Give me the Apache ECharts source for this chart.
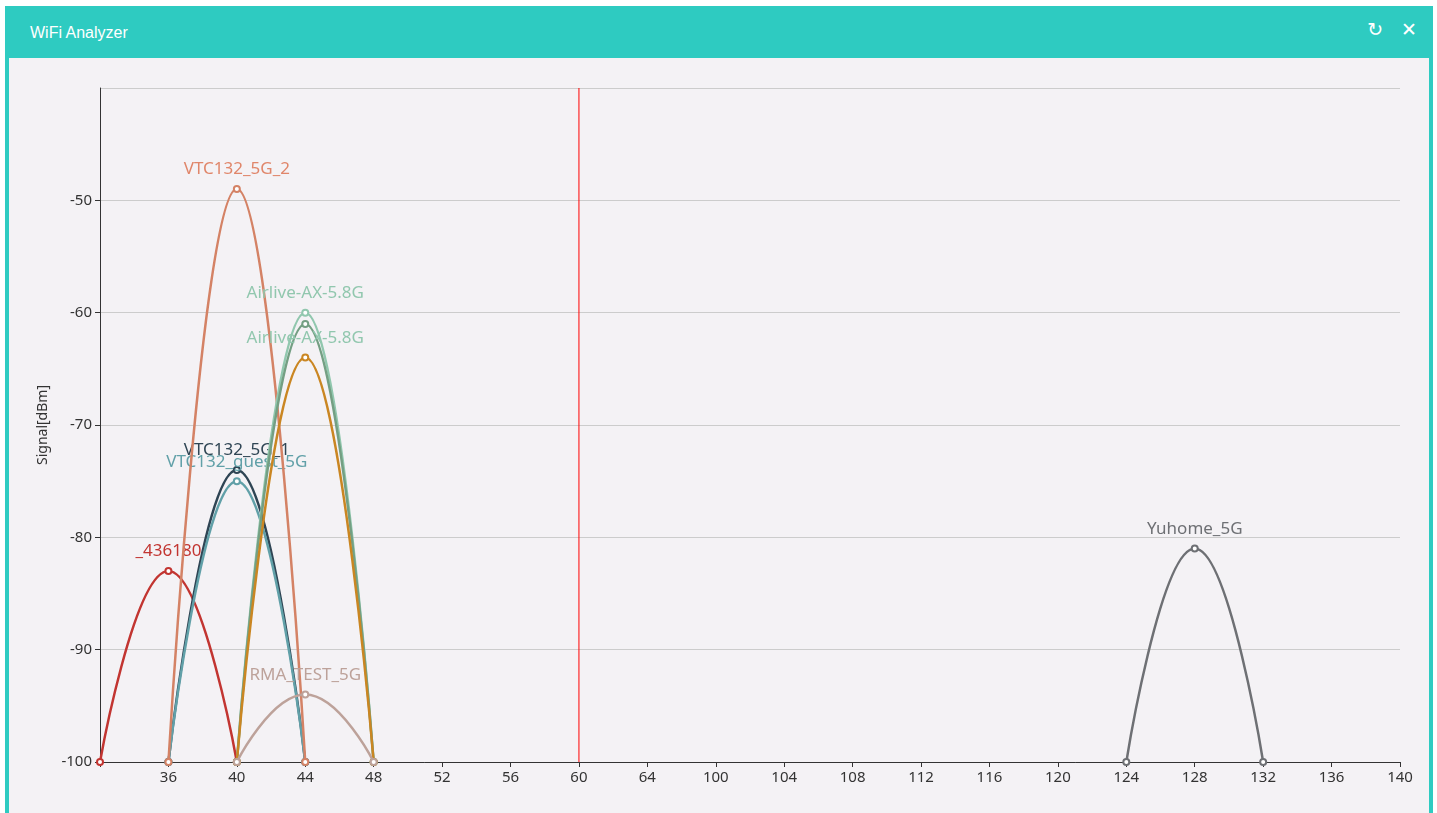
<!DOCTYPE html>
<html>
<head>
<meta charset="utf-8">
<title>WiFi Analyzer</title>
<script src="https://cdn.jsdelivr.net/npm/echarts@6/dist/echarts.min.js"></script>
<style>
  html, body { margin: 0; padding: 0; background: #fff; width: 1437px; height: 813px; overflow: hidden; }
  #panel { position: absolute; left: 5px; top: 6px; width: 1428px; height: 820px; background: #2ecbc1; }
  #title { position: absolute; left: 25px; top: 18px; color: #fff; font: 16px "Liberation Sans", Arial, sans-serif; }
  #icons { position: absolute; right: 16px; top: 12px; color: #fff; font: 19px "DejaVu Sans", sans-serif; }
  #icons span { margin-left: 18px; }
  #chart { position: absolute; left: 9px; top: 58px; width: 1420px; height: 755px; background: #f4f2f5; }
</style>
</head>
<body>
<div id="panel">
  <div id="title">WiFi Analyzer</div>
  <div id="icons"><span>&#x21bb;</span><span>&#x2715;</span></div>
</div>
<div id="chart"></div>
<script>
var channels = ['32', '36', '40', '44', '48', '52', '56', '60', '64',
    '100', '104', '108', '112', '116', '120', '124', '128', '132', '136', '140'];

var names = ['_436180', 'VTC132_5G_1', 'VTC132_guest_5G', 'VTC132_5G_2',
    'Airlive-AX-5.8G', 'Airlive-AX-5.8G', 'Airlive-AX-5.8G', 'RMA_TEST_5G', 'Yuhome_5G'];
var startCh = ['32', '36', '36', '36', '40', '40', '40', '40', '124'];
var peakCh  = ['36', '40', '40', '40', '44', '44', '44', '44', '128'];
var endCh   = ['40', '44', '44', '44', '48', '48', '48', '48', '132'];
var peaks   = [-83, -74, -75, -49, -60, -61, -64, -94, -81];
var floorDbm = -100;
var ceilDbm = -40;
var currentCh = '60';

var colors = ['#c23531', '#2f4554', '#61a0a8', '#d48265', '#91c7ae',
    '#749f83', '#ca8622', '#bda29a', '#6e7074'];
var labelColors = ['#c23531', '#2f4554', '#61a0a8', '#e0866a', '#91c7ae',
    '#91c7ae', '#91c7ae', '#bda29a', '#6e7074'];
var showLabel = [true, true, true, true, true, false, true, true, true];

var chartDom = document.getElementById('chart');
var myChart = echarts.init(chartDom);

// current channel marker
var series = [{
    name: 'current',
    type: 'line',
    z: 1,
    symbol: 'none',
    silent: true,
    lineStyle: { color: '#ff0000', width: 1 },
    itemStyle: { color: '#ff0000' },
    data: [[currentCh, floorDbm], [currentCh, ceilDbm]]
}];

names.forEach(function (name, i) {
    series.push({
        name: name,
        type: 'line',
        smooth: true,
        symbol: 'emptyCircle',
        symbolSize: 6,
        z: 2 + i,
        lineStyle: { width: 2.5, color: colors[i] },
        itemStyle: { color: colors[i], borderWidth: 1 },
        label: { show: false },
        emphasis: { disabled: true },
        data: [
            [startCh[i], floorDbm],
            {
                value: [peakCh[i], peaks[i]],
                label: {
                    show: showLabel[i],
                    position: 'top',
                    distance: 7,
                    formatter: name,
                    color: labelColors[i],
                    fontSize: 17,
                    fontFamily: 'Noto Sans, sans-serif'
                }
            },
            [endCh[i], floorDbm]
        ]
    });
});

var option = {
    animation: false,
    backgroundColor: '#f4f2f5',
    textStyle: { fontFamily: 'Noto Sans, sans-serif' },
    grid: { left: 91, right: 29, top: 30, bottom: 51 },
    xAxis: {
        type: 'category',
        boundaryGap: false,
        data: channels,
        axisLine: { lineStyle: { color: '#333', width: 1 } },
        axisTick: { show: true, alignWithLabel: true, length: 5 },
        axisLabel: {
            color: '#333',
            fontSize: 15,
            margin: 8,
            interval: 0,
            formatter: function (v, idx) { return idx === 0 ? '' : v; }
        },
        splitLine: { show: false }
    },
    yAxis: {
        type: 'value',
        name: 'Signal[dBm]',
        nameLocation: 'middle',
        nameGap: 50,
        nameTextStyle: { color: '#333', fontSize: 14 },
        min: floorDbm,
        max: ceilDbm,
        interval: 10,
        axisLine: { show: true, lineStyle: { color: '#333', width: 1 } },
        axisTick: { show: true, length: 5 },
        axisLabel: { color: '#333', fontSize: 15, margin: 8, showMaxLabel: false },
        splitLine: { lineStyle: { color: '#ccc', width: 1 } }
    },
    series: series
};

myChart.setOption(option);

window.addEventListener('resize', function () {
    myChart.resize();
});
</script>
</body>
</html>
